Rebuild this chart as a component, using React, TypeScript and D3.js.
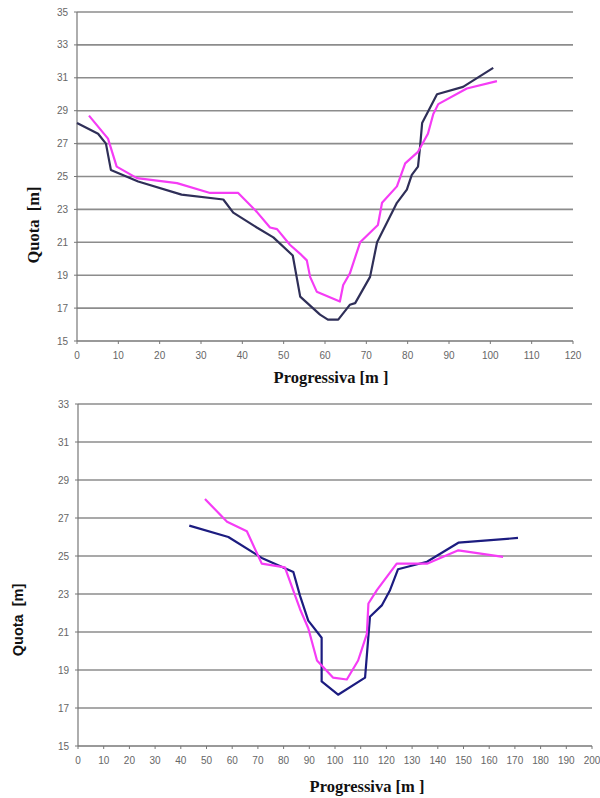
import React from "react";
import * as d3 from "d3";

// ---- Top chart data ----
const topXTicks = [0, 10, 20, 30, 40, 50, 60, 70, 80, 90, 100, 110, 120];
const topYTicks = [15, 17, 19, 21, 23, 25, 27, 29, 31, 33, 35];
const topDarkX = [0, 5.1, 7, 8.2, 14.8, 25.3, 35.4, 37.8, 43.5, 47.5, 52.2, 54, 58.8, 60.7, 63.2, 66, 67.3, 70.9, 72.6, 77.4, 79.8, 81, 82.5, 83, 83.5, 87.1, 93.4, 100.7];
const topDarkY = [28.25, 27.6, 27.0, 25.4, 24.7, 23.9, 23.6, 22.8, 21.9, 21.3, 20.2, 17.7, 16.6, 16.3, 16.3, 17.2, 17.3, 18.9, 21.0, 23.4, 24.2, 25.1, 25.6, 26.8, 28.25, 30.0, 30.45, 31.6];
const topMagX = [2.9, 7.5, 9.6, 14.5, 24.2, 32.2, 39, 43.5, 46.7, 48.4, 51.5, 54, 55.6, 56.4, 58, 63.6, 64.4, 66, 68.5, 72.8, 73.8, 77.4, 79.4, 82.5, 84.9, 86.2, 87.4, 94.3, 101.6];
const topMagY = [28.7, 27.3, 25.6, 24.9, 24.6, 24.0, 24.0, 22.85, 21.9, 21.8, 20.85, 20.3, 19.9, 18.9, 18.0, 17.4, 18.4, 19.1, 21.0, 22.05, 23.4, 24.4, 25.8, 26.5, 27.6, 28.8, 29.4, 30.35, 30.8];

// ---- Bottom chart data ----
const botXTicks = [0, 10, 20, 30, 40, 50, 60, 70, 80, 90, 100, 110, 120, 130, 140, 150, 160, 170, 180, 190, 200];
const botYTicks = [15, 17, 19, 21, 23, 25, 27, 29, 31, 33];
const botDarkX = [43.3, 58.5, 71.5, 83.8, 86.4, 89.6, 94.8, 94.8, 101.2, 111.7, 113.6, 118.2, 121.4, 124.5, 135.8, 148, 171.2];
const botDarkY = [26.6, 26.0, 24.9, 24.16, 22.9, 21.6, 20.7, 18.4, 17.7, 18.6, 21.8, 22.4, 23.2, 24.3, 24.7, 25.7, 25.95];
const botMagX = [49.4, 58, 65.7, 71.5, 80.5, 86.4, 89.6, 93, 99.2, 104.6, 109, 112.4, 113, 116.3, 124, 136, 148, 165.4];
const botMagY = [28.0, 26.8, 26.3, 24.6, 24.4, 22.2, 21.2, 19.5, 18.6, 18.5, 19.5, 20.9, 22.5, 23.2, 24.6, 24.6, 25.3, 24.95];

const xTitle = "Progressiva [m ]";
const yTitle = "Quota  [m]";

type Series = { xs: number[]; ys: number[]; color: string };

function Chart(props: {
  xDomain: [number, number];
  xRange: [number, number];
  yDomain: [number, number];
  yRange: [number, number];
  xTicks: number[];
  yTicks: number[];
  series: Series[];
  xTitlePos: [number, number];
  yTitlePos: [number, number];
  yTitleFont: string;
  yTitleSize: number;
}) {
  const x = d3.scaleLinear().domain(props.xDomain).range(props.xRange);
  const y = d3.scaleLinear().domain(props.yDomain).range(props.yRange);
  const x0 = props.xRange[0];
  const x1 = props.xRange[1];
  const yb = props.yRange[0];
  const yt = props.yRange[1];
  const gridColor = "#8c8c8c";
  const tickColor = "#777";
  return (
    <g>
      {props.yTicks.map((t) => (
        <g key={"y" + t}>
          {t !== props.yDomain[0] && (
            <line x1={x0} x2={x1} y1={y(t)} y2={y(t)} stroke={gridColor} strokeWidth={1.6} />
          )}
          <line x1={x0 - 3} x2={x0} y1={y(t)} y2={y(t)} stroke={tickColor} strokeWidth={1} />
          <text x={x0 - 9} y={y(t)} dy="0.35em" textAnchor="end" fontFamily="Liberation Sans, Arial, sans-serif" fontSize={10} fill="#666">
            {t}
          </text>
        </g>
      ))}
      <line x1={x0} x2={x0} y1={yt} y2={yb} stroke={tickColor} strokeWidth={1.2} />
      <line x1={x0} x2={x1} y1={yb} y2={yb} stroke={tickColor} strokeWidth={1.4} />
      {props.xTicks.map((t) => (
        <g key={"x" + t}>
          <line x1={x(t)} x2={x(t)} y1={yb} y2={yb + 3} stroke={tickColor} strokeWidth={1} />
          <text x={x(t)} y={yb + 18} textAnchor="middle" fontFamily="Liberation Sans, Arial, sans-serif" fontSize={10} fill="#666">
            {t}
          </text>
        </g>
      ))}
      {props.series.map((s, i) => {
        const pts = s.xs.map((v, j) => [v, s.ys[j]] as [number, number]);
        const line = d3.line<[number, number]>().x((d) => x(d[0])).y((d) => y(d[1]));
        return (
          <path key={i} d={line(pts) || ""} fill="none" stroke={s.color} strokeWidth={2.2} strokeLinejoin="round" />
        );
      })}
      <text x={props.xTitlePos[0]} y={props.xTitlePos[1]} textAnchor="middle" fontFamily="Liberation Serif, Times New Roman, serif" fontWeight="bold" fontSize={16.5} fill="#111">
        {xTitle}
      </text>
      <text
        transform={`translate(${props.yTitlePos[0]},${props.yTitlePos[1]}) rotate(-90)`}
        textAnchor="middle"
        dy="0.35em"
        fontFamily={props.yTitleFont}
        fontWeight="bold"
        fontSize={props.yTitleSize}
        fill="#111"
        style={{ whiteSpace: "pre" }}
      >
        {yTitle}
      </text>
    </g>
  );
}

export default function App() {
  const magenta = "#f53cf5";
  return (
    <svg width={600} height={798} style={{ position: "absolute", left: 0, top: 0, background: "#fff" }}>
      <rect width={600} height={798} fill="#fff" />
      <Chart
        xDomain={[0, 120]}
        xRange={[77, 573]}
        yDomain={[15, 35]}
        yRange={[341, 12]}
        xTicks={topXTicks}
        yTicks={topYTicks}
        series={[
          { xs: topDarkX, ys: topDarkY, color: "#2f2f58" },
          { xs: topMagX, ys: topMagY, color: magenta },
        ]}
        xTitlePos={[331, 383]}
        yTitlePos={[33, 225]}
        yTitleFont="Liberation Serif, Times New Roman, serif"
        yTitleSize={16.5}
      />
      <Chart
        xDomain={[0, 200]}
        xRange={[78, 592]}
        yDomain={[15, 33]}
        yRange={[746, 404]}
        xTicks={botXTicks}
        yTicks={botYTicks}
        series={[
          { xs: botDarkX, ys: botDarkY, color: "#1c1c80" },
          { xs: botMagX, ys: botMagY, color: magenta },
        ]}
        xTitlePos={[367, 792]}
        yTitlePos={[18, 620]}
        yTitleFont="Liberation Sans, Arial, sans-serif"
        yTitleSize={14.5}
      />
    </svg>
  );
}
